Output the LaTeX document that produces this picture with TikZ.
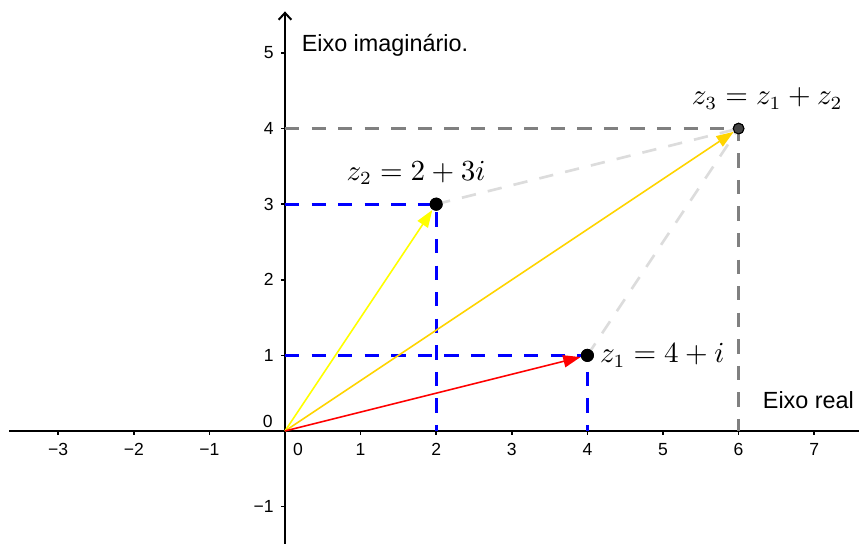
\documentclass[tikz,border=0pt]{standalone}
\usepackage{fontspec}
\setsansfont{Liberation Sans}
\usepackage{tikz}
\usetikzlibrary{positioning,arrows.meta}
\definecolor{projc}{RGB}{0,0,255}
\definecolor{guidec}{RGB}{128,128,128}
\definecolor{paralc}{RGB}{220,220,220}
\definecolor{vecac}{RGB}{255,255,0}
\definecolor{vecbc}{RGB}{255,212,0}
\definecolor{veccc}{RGB}{255,0,0}
\definecolor{sumc}{RGB}{68,68,68}
\tikzset{
  axisline/.style = {line width=0.75pt, black},
  tickmark/.style = {line width=0.6pt, black},
  ticklbl/.style  = {font=\sffamily\fontsize{6.6}{8}\selectfont, inner sep=0pt},
  axislbl/.style  = {font=\sffamily\fontsize{8.8}{10}\selectfont, inner sep=0pt},
  mathlbl/.style  = {font=\fontsize{10.7}{13}\selectfont, inner sep=0pt},
  proj/.style     = {draw=projc, line width=1pt, dash pattern=on 5.4pt off 4.6pt},
  guide/.style    = {draw=guidec, line width=1pt, dash pattern=on 5.4pt off 4.6pt},
  paral/.style    = {draw=paralc, line width=1pt, dash pattern=on 5.4pt off 4.6pt},
  vec/.style      = {line width=0.6pt, -{Triangle[length=6.5pt, width=4.6pt]}},
  pt/.style       = {circle, fill=black, inner sep=0pt, minimum size=4.9pt},
  ptsum/.style    = {circle, draw=black, line width=0.4pt, fill=sumc, inner sep=0pt,
                     minimum size=4pt},
}
\begin{document}
\begin{tikzpicture}
\useasboundingbox (-3.770,-1.495) rectangle (7.593,5.701);

% axes
\coordinate (xmin) at (-3.65,0);
\coordinate (xmax) at (7.593,0);
\coordinate (ymin) at (0,-1.495);
\coordinate (ymax) at (0,5.55);
\draw[axisline] (xmin) -- (xmax);
\draw[axisline, -{Straight Barb[length=2.6pt, width=4.8pt]}] (ymin) -- (ymax);

\foreach \x/\t in {-3/−3,-2/−2,-1/−1,1/1,2/2,3/3,4/4,5/5,6/6,7/7} {
  \draw[tickmark] (\x,0) -- (\x,-0.055);
  \node[ticklbl, anchor=base] (xl\x) at (\x,-0.327) {\t};
}
\foreach \y/\t in {-1/−1,1/1,2/2,3/3,4/4,5/5} {
  \draw[tickmark] (0,\y) -- (-0.055,\y);
  \node[ticklbl, anchor=east] (yl\y) at (-0.145,\y) {\t};
}
\node[ticklbl, anchor=base] (xl0) at (0.172,-0.327) {0};
\node[ticklbl, anchor=base east] (yl0) at (-0.155,0.04) {0};

\node[axislbl, anchor=base west] (imlbl) at (0.215,5.017) {Eixo imaginário.};
\node[axislbl, anchor=base west] (relbl) at (6.315,0.300) {Eixo real};

% points and their projections
\coordinate (O) at (0,0);
\node[pt] (z1) at (4,1) {};
\node[pt] (z2) at (2,3) {};
\node[ptsum] (z3) at (6,4) {};
\coordinate (x1) at (4,0);
\coordinate (y1) at (0,1);
\coordinate (x2) at (2,0);
\coordinate (y2) at (0,3);
\coordinate (x3) at (6,0);
\coordinate (y3) at (0,4);

\draw[guide] (y3) -- (z3.center) -- (x3);
\draw[paral] (z2.center) -- (z3.center);
\draw[paral] (z1.center) -- (z3.center);
\draw[proj] (y2) -- (z2.center) -- (x2);
\draw[proj] (y1) -- (z1.center) -- (x1);

\draw[vec, vecac] (O) -- (z2);
\draw[vec, vecbc] (O) -- (z3);
\draw[vec, veccc] (O) -- (z1);

\node[pt] at (z1) {};
\node[pt] at (z2) {};
\node[ptsum] at (z3) {};

\node[mathlbl] (z1lbl) at (4.99,1.0) {$z_1 = 4 + i$};
\node[mathlbl] (z2lbl) at (1.733,3.41) {$z_2 = 2 + 3i$};
\node[mathlbl] (z3lbl) at (6.38,4.40) {$z_3 = z_1 + z_2$};

\end{tikzpicture}
\end{document}
